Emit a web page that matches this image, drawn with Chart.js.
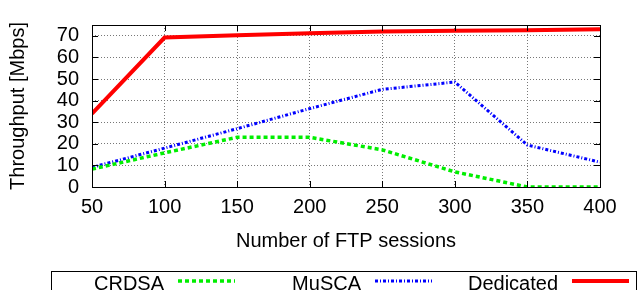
<!DOCTYPE html>
<html>
<head>
<meta charset="utf-8">
<script src="https://cdn.jsdelivr.net/npm/chart.js@4"></script>
<style>
  html, body { margin: 0; padding: 0; background: #fff; }
  #wrap { width: 638px; height: 290px; }
</style>
</head>
<body>
<div id="wrap"><canvas id="chart" width="638" height="290"></canvas></div>
<script>
var sessions  = [50, 100, 150, 200, 250, 300, 350, 400];
var crdsa     = [8.3, 15.8, 23, 23, 17.2, 7, 0, 0];
var musca     = [9.1, 18, 27, 36.3, 45.2, 48.6, 19.4, 11.5];
var dedicated = [34, 69.2, 70.3, 71.2, 72, 72.3, 72.6, 73];
var labels    = ['CRDSA', 'MuSCA', 'Dedicated'];
var yTicks    = [0, 10, 20, 30, 40, 50, 60, 70];

var FONT = "'Liberation Sans', Arial, sans-serif";

function pts(values) {
	var out = new Array();
	for (var i = 0; i < sessions.length; i++) out.push({x: sessions[i], y: values[i]});
	return out;
}

var styles = [
	{ borderColor: '#00ee00', borderWidth: 3.5, borderDash: [4, 3] },
	{ borderColor: '#0000ff', borderWidth: 3, borderDash: [3, 2, 1, 2] },
	{ borderColor: '#ff0000', borderWidth: 4, borderDash: [] }
];
var series = [crdsa, musca, dedicated];

var datasets = series.map(function(s, i) {
	return {
		label: labels[i],
		data: pts(s),
		borderColor: styles[i].borderColor,
		borderWidth: styles[i].borderWidth,
		borderDash: styles[i].borderDash,
		pointRadius: 0,
		tension: 0,
		fill: false
	};
});

// gnuplot style frame with inward ticks
var framePlugin = {
	id: 'frame',
	afterDatasetsDraw: function(chart) {
		var ctx = chart.ctx, a = chart.chartArea;
		var xs = chart.scales.x, ys = chart.scales.y;
		ctx.save();
		ctx.strokeStyle = '#000';
		ctx.lineWidth = 1;
		ctx.setLineDash([]);
		ctx.strokeRect(a.left + 0.5, a.top + 0.5, a.right - a.left, a.bottom - a.top);
		ctx.beginPath();
		xs.ticks.forEach(function(t) {
			var x = Math.round(xs.getPixelForValue(t.value)) + 0.5;
			ctx.moveTo(x, a.bottom); ctx.lineTo(x, a.bottom - 6);
			ctx.moveTo(x, a.top); ctx.lineTo(x, a.top + 6);
		});
		ys.ticks.forEach(function(t) {
			var y = Math.round(ys.getPixelForValue(t.value)) + 0.5;
			ctx.moveTo(a.left, y); ctx.lineTo(a.left + 6, y);
			ctx.moveTo(a.right, y); ctx.lineTo(a.right - 6, y);
		});
		ctx.stroke();
		ctx.restore();
	}
};

// legend box below the chart: text then line sample
var legendPlugin = {
	id: 'boxLegend',
	afterDraw: function(chart) {
		var ctx = chart.ctx;
		ctx.save();
		ctx.strokeStyle = '#000';
		ctx.lineWidth = 1;
		ctx.setLineDash([]);
		ctx.strokeRect(51.5, 271.5, 585, 40);
		ctx.font = '20px ' + FONT;
		ctx.fillStyle = '#000';
		ctx.textAlign = 'right';
		ctx.textBaseline = 'middle';
		chart.data.datasets.forEach(function(ds, i) {
			var x0 = 178 + i * 197;
			ctx.fillText(ds.label, x0 - 14, 284);
			ctx.beginPath();
			ctx.strokeStyle = ds.borderColor;
			ctx.lineWidth = ds.borderWidth;
			ctx.setLineDash(ds.borderDash);
			ctx.moveTo(x0, 281);
			ctx.lineTo(x0 + 57, 281);
			ctx.stroke();
		});
		ctx.restore();
	}
};

new Chart(document.getElementById('chart'), {
	type: 'line',
	data: { datasets: datasets },
	plugins: [framePlugin, legendPlugin],
	options: {
		responsive: false,
		animation: false,
		layout: { padding: { top: 11, right: 38, bottom: 37, left: 0 } },
		plugins: {
			legend: { display: false },
			tooltip: { enabled: false }
		},
		scales: {
			x: {
				type: 'linear',
				min: 50,
				max: 400,
				afterFit: function(s) { s.height = 66; },
				ticks: { stepSize: 50, padding: 8, autoSkip: false, color: '#000', font: { family: FONT, size: 20 } },
				grid: { color: '#777', lineWidth: 1, drawTicks: false },
				border: { display: false, dash: [1, 2] },
				title: { display: true, text: 'Number of FTP sessions', color: '#000', padding: 0, font: { family: FONT, size: 20 } }
			},
			y: {
				min: 0,
				max: 75,
				afterFit: function(s) { s.width = 92; },
				afterBuildTicks: function(s) { s.ticks = yTicks.map(function(v) { return { value: v }; }); },
				ticks: { autoSkip: false, padding: 13, color: '#000', font: { family: FONT, size: 20 } },
				grid: { color: '#777', lineWidth: 1, drawTicks: false },
				border: { display: false, dash: [1, 2] },
				title: { display: true, text: 'Throughput [Mbps]', color: '#000', padding: { top: 6, bottom: 0 }, font: { family: FONT, size: 20 } }
			}
		}
	}
});
</script>
</body>
</html>
